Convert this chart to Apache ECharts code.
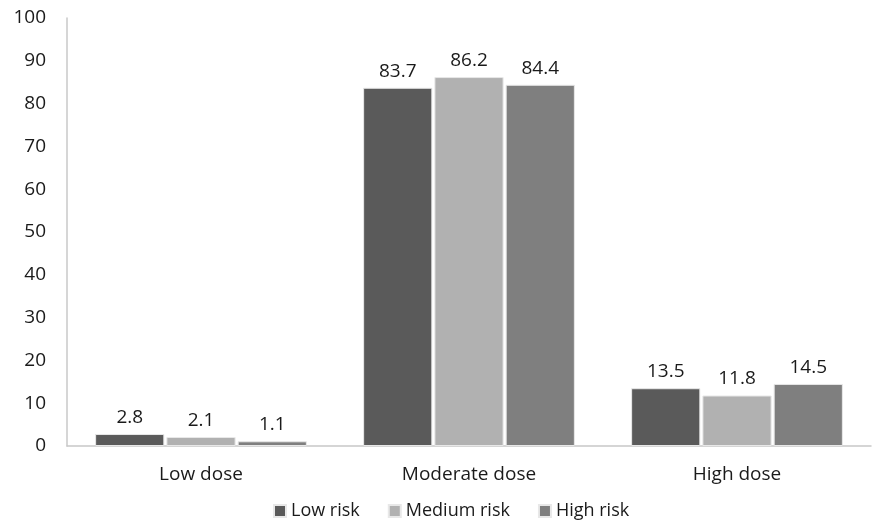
<!DOCTYPE html>
<html><head><meta charset="utf-8">
<script src="https://cdn.jsdelivr.net/npm/echarts@6/dist/echarts.min.js"></script>
<style>html,body{margin:0;padding:0;background:#fff}#c{width:876px;height:523px}</style>
</head><body><div id="c"></div>
<script>
const categories = ['Low dose', 'Moderate dose', 'High dose'];
const seriesNames = ['Low risk', 'Medium risk', 'High risk'];
const lowRisk = [2.8, 83.7, 13.5];
const mediumRisk = [2.1, 86.2, 11.8];
const highRisk = [1.1, 84.4, 14.5];
const colors = ['#5a5a5a', '#b1b1b1', '#7f7f7f'];
const font = 'Open Sans';
const fs = 19;
const chart = echarts.init(document.getElementById('c'), null, {renderer: 'canvas'});
const mk = (name, data, color) => ({
  name, type: 'bar', data,
  itemStyle: {color, borderColor: '#e8e8e8', borderWidth: 1},
  barGap: '3%', barCategoryGap: '21%',
  label: {show: true, position: 'top', distance: 7, color: '#1a1a1a', fontSize: fs, fontFamily: font}
});
chart.setOption({
  animation: false,
  color: colors,
  grid: {left: 67, right: 5, top: 18, bottom: 77, containLabel: false},
  legend: {left: 268, bottom: -2, itemWidth: 12, itemHeight: 12, itemGap: 28, icon: 'rect',
    textStyle: {fontSize: 18, color: '#1a1a1a', fontFamily: font}, data: seriesNames},
  xAxis: {type: 'category', data: categories,
    axisLine: {lineStyle: {color: '#c8c8c8', width: 1.5}}, axisTick: {show: false},
    axisLabel: {fontSize: fs, color: '#1a1a1a', fontFamily: font, margin: 19}},
  yAxis: {type: 'value', min: 0, max: 100, interval: 10,
    axisLine: {show: true, lineStyle: {color: '#c8c8c8', width: 1.5}}, axisTick: {show: false},
    splitLine: {show: false},
    axisLabel: {fontSize: fs, color: '#1a1a1a', fontFamily: font, margin: 21}},
  series: [mk(seriesNames[0], lowRisk, colors[0]), mk(seriesNames[1], mediumRisk, colors[1]), mk(seriesNames[2], highRisk, colors[2])]
});
</script></body></html>
